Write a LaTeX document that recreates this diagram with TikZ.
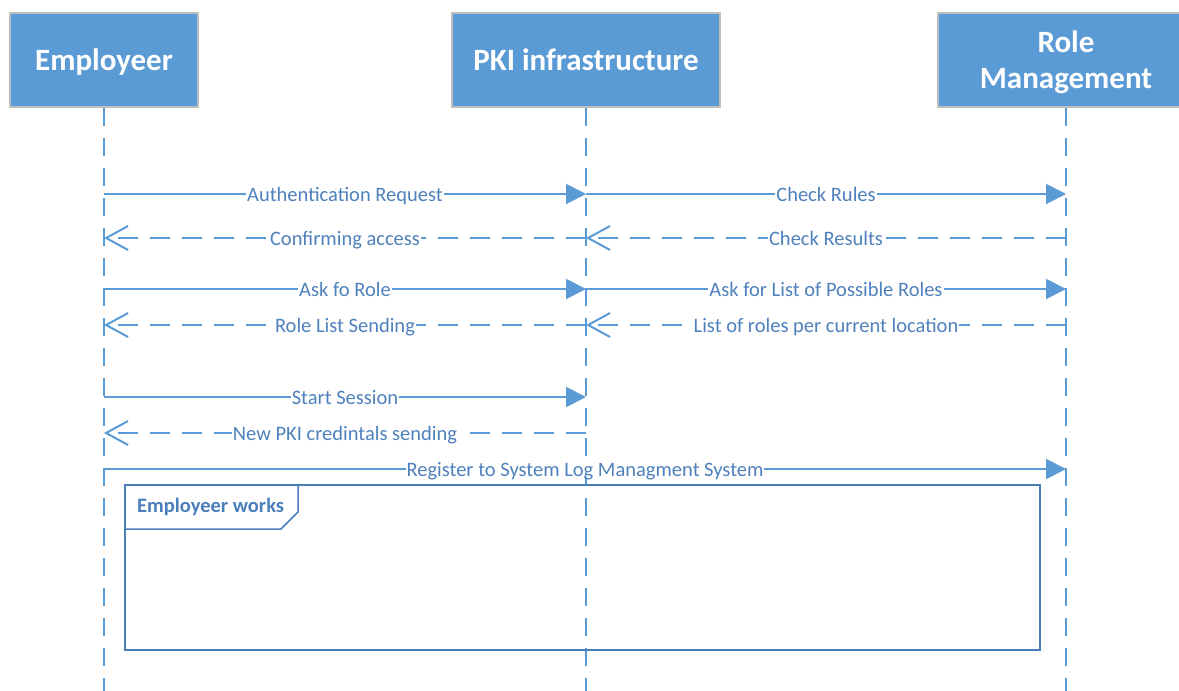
\documentclass[tikz,border=0pt]{standalone}
\usepackage{fontspec}
\setmainfont{Carlito}
\usetikzlibrary{arrows.meta}
\definecolor{boxblue}{HTML}{5B9BD5}
\definecolor{boxgray}{HTML}{BFBFBF}
\definecolor{msgtext}{HTML}{4F81BD}
\definecolor{framecol}{HTML}{4A7EBB}

\begin{document}
\begin{tikzpicture}[x=1pt,y=-1pt,
  actor/.style={draw=boxgray, line width=1.5pt, fill=boxblue, text=white, font=\fontsize{31}{36}\selectfont\bfseries, minimum height=94pt, text depth=0pt, align=center, inner sep=0pt},
  life/.style={boxblue, line width=2pt, dash pattern=on 18pt off 12pt},
  call/.style={boxblue, line width=2pt, -{Triangle[length=20pt,width=20pt]}},
  reply/.style={boxblue, line width=2pt, dash pattern=on 20pt off 12pt, -{Straight Barb[length=22pt,width=24pt,line width=2pt]}},
  lbl/.style={fill=white, text=msgtext, inner xsep=1pt, inner ysep=0pt, text height=13pt, text depth=0pt, yshift=-1pt, font=\fontsize{20.5}{24}\selectfont}]
\useasboundingbox (0,0) rectangle (1179,691);
\clip (0,0) rectangle (1179,691);

% participants
\node[actor, minimum width=188pt] (emp) at (104,60) {Employeer};
\node[actor, minimum width=268pt] (pki) at (586,60) {PKI infrastructure};
\node[actor, minimum width=256pt] (role) at (1066,60) {Role\\Management};

% lifelines
\coordinate (emp-end) at (104,691);
\coordinate (pki-end) at (586,691);
\coordinate (role-end) at (1066,691);
\draw[life] (emp) -- (emp-end);
\draw[life] (pki) -- (pki-end);
\draw[life] (role) -- (role-end);

% message rows
\foreach \n/\y in {1/194,2/238,3/289,4/325,5/397,6/433,7/469}
  \coordinate (r\n) at (0,\y);

\draw[call] (emp |- r1) -- node[lbl] {Authentication Request} (pki |- r1);
\draw[call] (pki |- r1) -- node[lbl] {Check Rules} (role |- r1);
\draw[reply] (role |- r2) -- node[lbl] {Check Results} (pki |- r2);
\draw[reply] (pki |- r2) -- node[lbl] {Confirming access} (emp |- r2);
\draw[call] (emp |- r3) -- node[lbl] {Ask fo Role} (pki |- r3);
\draw[call] (pki |- r3) -- node[lbl] {Ask for List of Possible Roles} (role |- r3);
\draw[reply] (role |- r4) -- node[lbl] {List of roles per current location} (pki |- r4);
\draw[reply] (pki |- r4) -- node[lbl] {Role List Sending} (emp |- r4);
\draw[call] (emp |- r5) -- node[lbl] {Start Session} (pki |- r5);
\draw[reply] (pki |- r6) -- node[lbl] {New PKI credintals sending} (emp |- r6);
\draw[call] (emp |- r7) -- node[lbl] {Register to System Log Managment System} (role |- r7);

% frame
\draw[framecol, line width=2pt] (125,485) rectangle (1040,650);
\draw[framecol, line width=1.5pt] (298,485) -- (298,512) -- (281,529) -- (125,529);
\node[anchor=west, text=framecol, inner sep=0pt, font=\fontsize{20.5}{24}\selectfont\bfseries] (works) at (137,507) {Employeer works};
\end{tikzpicture}
\end{document}
